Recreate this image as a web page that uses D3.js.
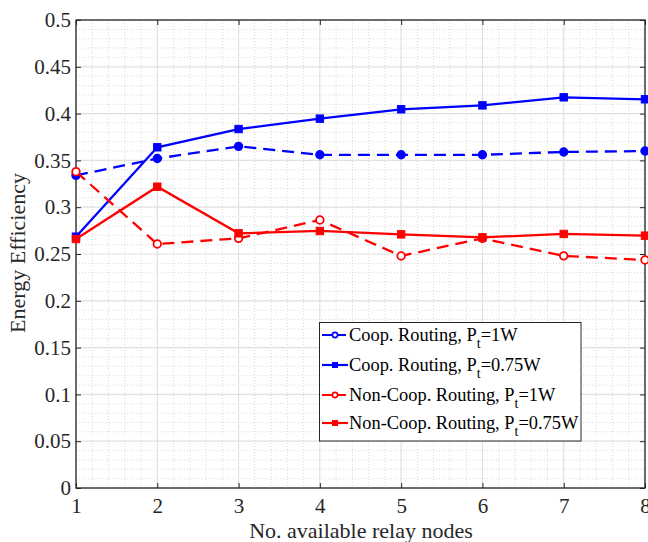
<!DOCTYPE html>
<html><head><meta charset="utf-8">
<script src="https://cdn.jsdelivr.net/npm/d3@7"></script>
<style>body{margin:0;background:#fff;} svg{display:block;}</style>
</head><body>
<script>
const xValues = [1,2,3,4,5,6,7,8];
const coop1W = [0.334,0.352,0.365,0.356,0.356,0.356,0.359,0.360];
const coop075W = [0.2685,0.364,0.3835,0.3946,0.4046,0.4088,0.4174,0.4153];
const noncoop1W = [0.338,0.2607,0.2667,0.2863,0.2479,0.2667,0.248,0.2436];
const noncoop075W = [0.266,0.3219,0.2721,0.2746,0.271,0.2678,0.2714,0.2696];
const xTicks = [1,2,3,4,5,6,7,8];
const yTicks = [0,0.05,0.1,0.15,0.2,0.25,0.3,0.35,0.4,0.45,0.5];
const seriesNames = ["Coop. Routing, P","Coop. Routing, P","Non-Coop. Routing, P","Non-Coop. Routing, P"];
const seriesSuffix = ["=1W","=0.75W","=1W","=0.75W"];

const W=648,H=542;
const m={l:76,t:20,r:645,b:488};
const font="'Liberation Serif','Times New Roman',Times,serif";
const svg=d3.select("body").append("svg").attr("width",W).attr("height",H);
const x=d3.scaleLinear().domain([1,8]).range([m.l,m.r]);
const y=d3.scaleLinear().domain([0,0.5]).range([m.b,m.t]);

const g=svg.append("g");
// minor grid
const xMinor=d3.range(1,8.001,0.2).filter(v=>Math.abs(v-Math.round(v))>1e-6);
const yMinor=d3.range(0,0.5001,0.01).filter(v=>Math.abs(v*20-Math.round(v*20))>1e-6);
g.selectAll(".xm").data(xMinor).join("line").attr("x1",d=>x(d)).attr("x2",d=>x(d)).attr("y1",m.t).attr("y2",m.b)
 .attr("stroke","#cfcfcf").attr("stroke-width",0.8).attr("stroke-dasharray","1,2");
g.selectAll(".ym").data(yMinor).join("line").attr("y1",d=>y(d)).attr("y2",d=>y(d)).attr("x1",m.l).attr("x2",m.r)
 .attr("stroke","#cfcfcf").attr("stroke-width",0.8).attr("stroke-dasharray","1,2");
// major grid
g.selectAll(".xg").data(xTicks).join("line").attr("x1",d=>x(d)).attr("x2",d=>x(d)).attr("y1",m.t).attr("y2",m.b)
 .attr("stroke","#e0e0e0").attr("stroke-width",1.2);
g.selectAll(".yg").data(yTicks).join("line").attr("y1",d=>y(d)).attr("y2",d=>y(d)).attr("x1",m.l).attr("x2",m.r)
 .attr("stroke","#e0e0e0").attr("stroke-width",1.2);

// axes
const axCol="#262626";
function styleAxis(sel){sel.attr("font-family",font).attr("font-size",21);
 sel.select(".domain").remove();sel.selectAll("line").attr("stroke",axCol).attr("stroke-width",1);
 sel.selectAll("text").attr("font-family",font).attr("font-size","21px").attr("fill",axCol);}
svg.append("g").attr("transform",`translate(0,${m.b})`).call(d3.axisBottom(x).tickValues(xTicks).tickFormat(d3.format("d")).tickSizeInner(-5).tickSizeOuter(0).tickPadding(10)).call(styleAxis);
svg.append("g").attr("transform",`translate(0,${m.t})`).call(d3.axisTop(x).tickValues(xTicks).tickFormat("").tickSizeInner(-5).tickSizeOuter(0)).call(styleAxis);
svg.append("g").attr("transform",`translate(${m.l},0)`).call(d3.axisLeft(y).tickValues(yTicks).tickFormat(d=>d3.format("")(+d.toFixed(2))).tickSizeInner(-5).tickSizeOuter(0).tickPadding(5)).call(styleAxis);
svg.append("g").attr("transform",`translate(${m.r},0)`).call(d3.axisRight(y).tickValues(yTicks).tickFormat("").tickSizeInner(-5).tickSizeOuter(0)).call(styleAxis);
svg.append("rect").attr("x",m.l).attr("y",m.t).attr("width",m.r-m.l).attr("height",m.b-m.t).attr("fill","none").attr("stroke",axCol).attr("stroke-width",1.3);

// series
const series=[
 {v:coop1W,c:"#0000ff",dash:"12,7",mk:"circle",fill:"#0000ff"},
 {v:coop075W,c:"#0000ff",dash:null,mk:"square",fill:"#0000ff"},
 {v:noncoop1W,c:"#ff0000",dash:"12,7",mk:"circle",fill:"#ffffff"},
 {v:noncoop075W,c:"#ff0000",dash:null,mk:"square",fill:"#ff0000"}
];
const line=d3.line().x((d,i)=>x(xValues[i])).y(d=>y(d));
const pg=svg.append("g");
series.forEach(s=>{
 pg.append("path").attr("d",line(s.v)).attr("fill","none").attr("stroke",s.c).attr("stroke-width",2.3)
  .attr("stroke-dasharray",s.dash);
 s.v.forEach((d,i)=>{
  if(s.mk==="circle") pg.append("circle").attr("cx",x(xValues[i])).attr("cy",y(d)).attr("r",3.8).attr("fill",s.fill).attr("stroke",s.c).attr("stroke-width",1.8);
  else pg.append("rect").attr("x",x(xValues[i])-3.7).attr("y",y(d)-3.7).attr("width",7.4).attr("height",7.4).attr("fill",s.fill).attr("stroke",s.c).attr("stroke-width",1);
 });
});

// legend
const lg=svg.append("g");
lg.append("rect").attr("x",319.5).attr("y",322.5).attr("width",261.5).attr("height",118.5).attr("fill","#fff").attr("stroke",axCol).attr("stroke-width",1);
const rowY=[335,365,395,423];
series.forEach((s,i)=>{
 const yy=rowY[i];
 lg.append("line").attr("x1",322).attr("x2",348).attr("y1",yy).attr("y2",yy).attr("stroke",s.c).attr("stroke-width",2.2).attr("stroke-dasharray",s.dash?"10,4":null);
 if(s.mk==="circle") lg.append("circle").attr("cx",335).attr("cy",yy).attr("r",2.6).attr("fill","#fff").attr("stroke",s.c).attr("stroke-width",1.6);
 else lg.append("rect").attr("x",332).attr("y",yy-3).attr("width",6).attr("height",6).attr("fill",s.c);
 const t=lg.append("text").attr("x",349).attr("y",yy+6).attr("font-family",font).attr("font-size","18.4px").attr("fill","#000");
 t.append("tspan").text(seriesNames[i]);
 t.append("tspan").attr("font-size","14px").attr("dy",7).text("t");
 t.append("tspan").attr("dy",-7).text(seriesSuffix[i]);
});

// axis titles
svg.append("text").attr("x",361).attr("y",538).attr("text-anchor","middle").attr("font-family",font).attr("font-size","22px").attr("fill",axCol).text("No. available relay nodes");
svg.append("text").attr("transform","translate(25,253) rotate(-90)").attr("text-anchor","middle").attr("font-family",font).attr("font-size","22px").attr("fill",axCol).text("Energy Efficiency");
</script>
</body></html>
